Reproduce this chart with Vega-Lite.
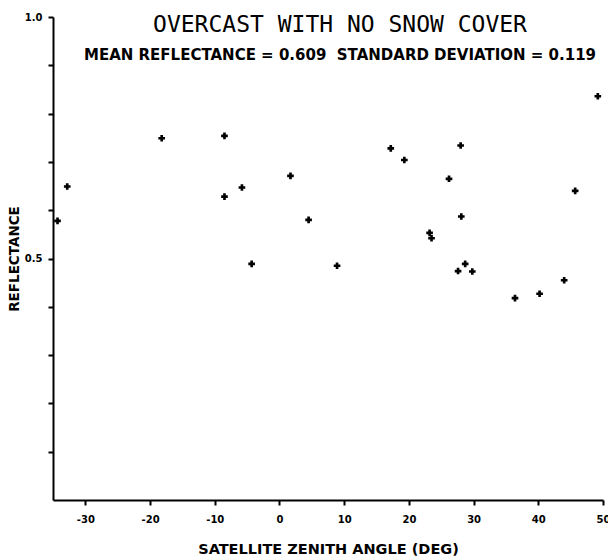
{
  "$schema": "https://vega.github.io/schema/vega-lite/v6.json",
  "width": 550,
  "height": 483,
  "autosize": {"type": "none"},
  "padding": {"left": 53, "top": 17, "right": 5, "bottom": 59},
  "background": "white",
  "config": {"view": {"stroke": null}},
  "title": {
    "text": "OVERCAST WITH NO SNOW COVER",
    "subtitle": "MEAN REFLECTANCE = 0.609\u00a0\u00a0STANDARD DEVIATION = 0.119",
    "anchor": "middle",
    "frame": "group",
    "offset": -51,
    "dx": 12,
    "font": "DejaVu Sans Mono",
    "fontSize": 23,
    "fontWeight": "normal",
    "color": "black",
    "subtitleFont": "DejaVu Sans",
    "subtitleFontSize": 15,
    "subtitleFontWeight": "bold",
    "subtitleColor": "black",
    "subtitlePadding": 11
  },
  "data": {
    "values": [
      {"angle": -34.3, "reflectance": 0.578},
      {"angle": -32.8, "reflectance": 0.649},
      {"angle": -18.2, "reflectance": 0.749},
      {"angle": -8.5, "reflectance": 0.754},
      {"angle": -8.5, "reflectance": 0.628},
      {"angle": -5.8, "reflectance": 0.647},
      {"angle": -4.3, "reflectance": 0.489},
      {"angle": 1.7, "reflectance": 0.671},
      {"angle": 4.5, "reflectance": 0.58},
      {"angle": 8.9, "reflectance": 0.485},
      {"angle": 17.2, "reflectance": 0.728},
      {"angle": 19.3, "reflectance": 0.704},
      {"angle": 23.2, "reflectance": 0.553},
      {"angle": 23.5, "reflectance": 0.542},
      {"angle": 26.2, "reflectance": 0.665},
      {"angle": 27.6, "reflectance": 0.474},
      {"angle": 28.0, "reflectance": 0.734},
      {"angle": 28.1, "reflectance": 0.587},
      {"angle": 28.7, "reflectance": 0.489},
      {"angle": 29.8, "reflectance": 0.473},
      {"angle": 36.4, "reflectance": 0.418},
      {"angle": 40.2, "reflectance": 0.427},
      {"angle": 44.0, "reflectance": 0.455},
      {"angle": 45.7, "reflectance": 0.64},
      {"angle": 49.2, "reflectance": 0.836}
    ]
  },
  "mark": {"type": "point", "shape": "cross", "filled": true, "size": 44, "color": "black", "opacity": 1},
  "encoding": {
    "x": {
      "field": "angle",
      "type": "quantitative",
      "scale": {"domain": [-35, 50], "nice": false, "zero": false},
      "axis": {
        "title": "SATELLITE ZENITH ANGLE (DEG)",
        "values": [-30, -20, -10, 0, 10, 20, 30, 40, 50],
        "labelExpr": "'' + datum.value",
        "grid": false,
        "domainColor": "black",
        "domainWidth": 2,
        "tickColor": "black",
        "tickWidth": 2,
        "tickSize": 5,
        "labelFont": "DejaVu Sans",
        "labelFontWeight": "bold",
        "labelFontSize": 10,
        "labelColor": "black",
        "labelPadding": 9,
        "labelFlush": false,
        "titleFont": "DejaVu Sans",
        "titleFontWeight": "bold",
        "titleFontSize": 14.5,
        "titleColor": "black",
        "titlePadding": 18
      }
    },
    "y": {
      "field": "reflectance",
      "type": "quantitative",
      "scale": {"domain": [0, 1], "nice": false, "zero": false},
      "axis": {
        "title": "REFLECTANCE",
        "values": [0.1, 0.2, 0.3, 0.4, 0.5, 0.6, 0.7, 0.8, 0.9, 1.0],
        "labelExpr": "datum.value == 0.5 || datum.value == 1 ? format(datum.value, '.1f') : ''",
        "grid": false,
        "domainColor": "black",
        "domainWidth": 2,
        "tickColor": "black",
        "tickWidth": 2,
        "tickSize": 5,
        "labelFont": "DejaVu Sans",
        "labelFontWeight": "bold",
        "labelFontSize": 10,
        "labelColor": "black",
        "labelPadding": 6,
        "titleFont": "DejaVu Sans",
        "titleFontWeight": "bold",
        "titleFontSize": 13.5,
        "titleColor": "black",
        "titlePadding": 3
      }
    }
  }
}
